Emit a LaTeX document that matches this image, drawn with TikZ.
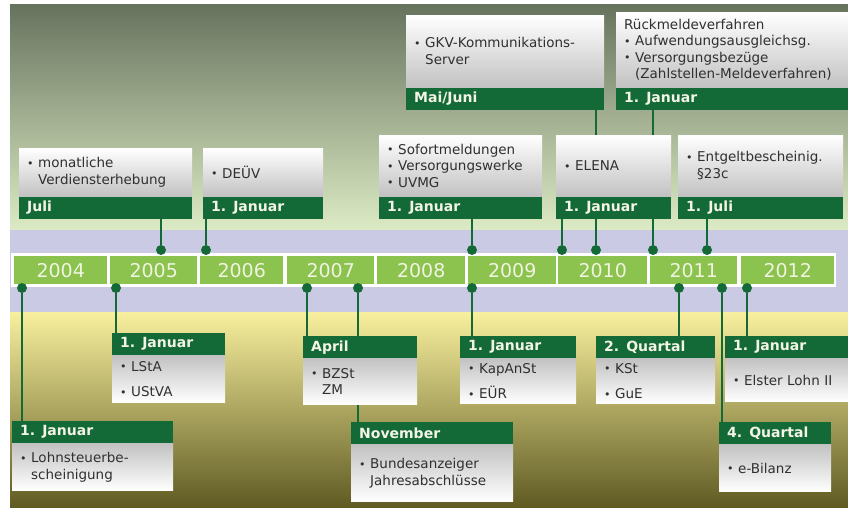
\documentclass[tikz,border=0pt]{standalone}
\usepackage{fontspec}
\setmainfont{DejaVu Sans}
\usetikzlibrary{calc}
\definecolor{hdgreen}{HTML}{146A37}
\definecolor{hdtext}{HTML}{F4F4E6}
\definecolor{yrgreen}{HTML}{8CC24E}
\definecolor{yrtext}{HTML}{F0F4E0}
\definecolor{txtgray}{HTML}{303030}
\definecolor{boxgray}{HTML}{C2C2C2}
\definecolor{lavband}{HTML}{CACAE4}
\definecolor{skytop}{HTML}{68735E}
\definecolor{skybot}{HTML}{DCEBC4}
\definecolor{sandtop}{HTML}{F8F09E}
\definecolor{sandmid}{HTML}{CCC478}
\definecolor{sandbot}{HTML}{5E5A22}
\pgfdeclarelayer{back}
\pgfdeclarelayer{wires}
\pgfsetlayers{back,wires,main}
\newcommand{\tikzBullet}{\makebox[11pt][l]{\raisebox{0.5pt}{\fontsize{11}{11}\selectfont\textbullet}}}
\newcommand{\tikzIndent}{\hspace*{11pt}}
% box with date bar below the text
\newcommand{\tikzEventUp}[6]{
  \pgfmathsetmacro{\tikzTextWidth}{#3-16}
  \node[evbody,top color=white,bottom color=boxgray,text width=\tikzTextWidth pt,minimum height=#4,anchor=north west] (#1) at (#2) {#6};
  \node[evhead,text width=\tikzTextWidth pt,anchor=north west] (#1h) at (#1.south west) {#5};
}
% box with date bar above the text
\newcommand{\tikzEventDown}[6]{
  \pgfmathsetmacro{\tikzTextWidth}{#3-16}
  \node[evhead,text width=\tikzTextWidth pt,anchor=north west] (#1h) at (#2) {#5};
  \node[evbody,top color=boxgray,bottom color=white,text width=\tikzTextWidth pt,minimum height=#4,anchor=north west] (#1) at (#1h.south west) {#6};
}
\begin{document}
\begin{tikzpicture}[x=1pt,y=-1pt,
  yearbox/.style={fill=yrgreen,text=yrtext,minimum height=28,inner sep=0pt,font=\fontsize{19}{19}\selectfont,anchor=north west},
  evbody/.style={inner xsep=8pt,inner ysep=2pt,align=left,text=txtgray,font=\fontsize{13.5}{16.5}\selectfont},
  evhead/.style={fill=hdgreen,text=hdtext,minimum height=22,inner xsep=8pt,inner ysep=0pt,align=left,font=\bfseries\fontsize{14}{16}\selectfont},
  tdot/.style={circle,fill=hdgreen,inner sep=0pt,minimum size=10},
  wire/.style={draw=hdgreen,line width=2pt}]

  \useasboundingbox (0,0) rectangle (848,508);

  \begin{pgfonlayer}{back}
  \fill[white] (0,0) rectangle (848,508);
  \shade[top color=skytop,bottom color=skybot] (10,5) rectangle (848,230);
  \fill[lavband] (10,230) rectangle (848,312);
  \shade[top color=sandtop,middle color=sandmid,bottom color=sandbot] (10,312) rectangle (848,508);
  \end{pgfonlayer}

  % time line
  \node[fill=white,minimum width=825,minimum height=34,inner sep=0pt,anchor=north west] (strip) at (11,253) {};
  \node[yearbox,minimum width=93] (y2004) at (14,256) {2004};
  \node[yearbox,minimum width=87] (y2005) at (110,256) {2005};
  \node[yearbox,minimum width=83] (y2006) at (200,256) {2006};
  \node[yearbox,minimum width=87] (y2007) at (287,256) {2007};
  \node[yearbox,minimum width=88] (y2008) at (377,256) {2008};
  \node[yearbox,minimum width=88] (y2009) at (468,256) {2009};
  \node[yearbox,minimum width=89] (y2010) at (558,256) {2010};
  \node[yearbox,minimum width=87] (y2011) at (650,256) {2011};
  \node[yearbox,minimum width=93] (y2012) at (741,256) {2012};

  \node[tdot] (jul05) at (161,250) {};
  \node[tdot] (jan06) at (206,250) {};
  \node[tdot] (jan09a) at (472,250) {};
  \node[tdot] (jan10) at (562,250) {};
  \node[tdot] (mai10) at (596,250) {};
  \node[tdot] (jan11) at (653,250) {};
  \node[tdot] (jul11) at (707,250) {};

  \node[tdot] (jan04) at (22,288) {};
  \node[tdot] (jan05) at (116,288) {};
  \node[tdot] (apr07) at (307,288) {};
  \node[tdot] (nov07) at (358,288) {};
  \node[tdot] (jan09b) at (472,288) {};
  \node[tdot] (q211) at (679,288) {};
  \node[tdot] (q411) at (722,288) {};
  \node[tdot] (jan12) at (747,288) {};

  % upper events
  \tikzEventUp{verdienst}{19,148}{173}{48}{Juli}{\tikzBullet monatliche\\\tikzIndent Verdiensterhebung}
  \tikzEventUp{deuev}{203,148}{120}{48}{1. Januar}{\tikzBullet DEÜV}
  \tikzEventUp{sofort}{379,135}{163}{61}{1. Januar}{\tikzBullet Sofortmeldungen\\\tikzBullet Versorgungswerke\\\tikzBullet UVMG}
  \tikzEventUp{gkv}{406,15}{198}{72}{Mai/Juni}{\tikzBullet GKV-Kommunikations-\\\tikzIndent Server}
  \tikzEventUp{elena}{556,135}{115}{61}{1. Januar}{\tikzBullet ELENA}
  \tikzEventUp{rueck}{616,12}{232}{75}{1. Januar}{Rückmeldeverfahren\\\tikzBullet Aufwendungsausgleichsg.\\\tikzBullet Versorgungsbezüge\\\tikzIndent(Zahlstellen-Meldeverfahren)}
  \tikzEventUp{entgelt}{678,135}{165}{61}{1. Juli}{\tikzBullet Entgeltbescheinig.\\\tikzIndent\S23c}

  % lower events
  \tikzEventDown{lohnst}{12,421}{161}{47}{1. Januar}{\tikzBullet Lohnsteuerbe-\\\tikzIndent scheinigung}
  \tikzEventDown{lsta}{112,333}{113}{47}{1. Januar}{\tikzBullet LStA\\[9pt]\tikzBullet UStVA}
  \tikzEventDown{bzst}{303,336}{114}{46}{April}{\tikzBullet BZSt\\\tikzIndent ZM}
  \tikzEventDown{banz}{351,422}{162}{57}{November}{\tikzBullet Bundesanzeiger\\\tikzIndent Jahresabschlüsse}
  \tikzEventDown{kapanst}{460,336}{116}{45}{1. Januar}{\tikzBullet KapAnSt\\[9pt]\tikzBullet EÜR}
  \tikzEventDown{kst}{596,336}{119}{45}{2. Quartal}{\tikzBullet KSt\\[9pt]\tikzBullet GuE}
  \tikzEventDown{elster}{725,336}{123}{43}{1. Januar}{\tikzBullet Elster Lohn II}
  \tikzEventDown{bilanz}{719,422}{112}{47}{4. Quartal}{\tikzBullet e-Bilanz}

  \begin{pgfonlayer}{wires}
  \draw[wire] (jul05) -- (jul05 |- verdiensth.south);
  \draw[wire] (jan06) -- (jan06 |- deuevh.south);
  \draw[wire] (jan09a) -- (jan09a |- soforth.south);
  \draw[wire] (jan10) -- (jan10 |- elenah.south);
  \draw[wire] (mai10) -- (mai10 |- gkvh.south);
  \draw[wire] (jan11) -- (jan11 |- rueckh.south);
  \draw[wire] (jul11) -- (jul11 |- entgelth.south);
  \draw[wire] (jan04) -- (jan04 |- lohnsth.north);
  \draw[wire] (jan05) -- (jan05 |- lstah.north);
  \draw[wire] (apr07) -- (apr07 |- bzsth.north);
  \draw[wire] (nov07) -- (nov07 |- banzh.north);
  \draw[wire] (jan09b) -- (jan09b |- kapansth.north);
  \draw[wire] (q211) -- (q211 |- ksth.north);
  \draw[wire] (q411) -- (q411 |- bilanzh.north);
  \draw[wire] (jan12) -- (jan12 |- elsterh.north);
  \end{pgfonlayer}

\end{tikzpicture}
\end{document}
